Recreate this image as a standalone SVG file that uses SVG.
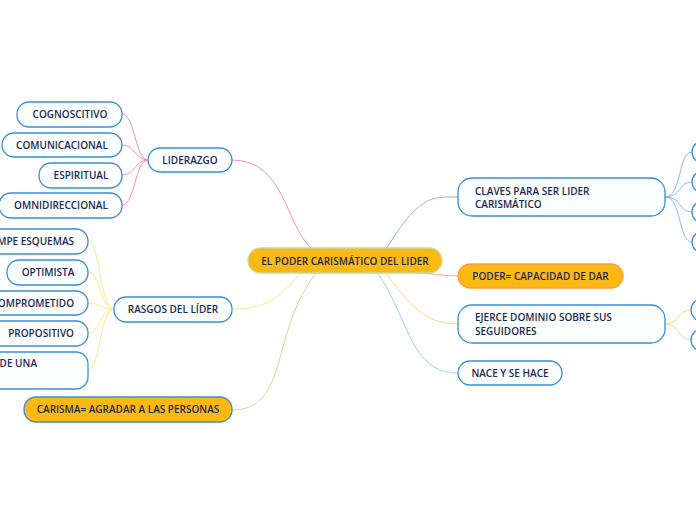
<svg xmlns="http://www.w3.org/2000/svg" width="696" height="520" viewBox="0 0 696 520">
<style>
.n{fill:#fbfefe;stroke:#3b8fd8;stroke-width:1.3}
.o{fill:#fdb913;stroke-width:1.3}
.t{font-family:"Open Sans","Noto Sans",sans-serif;font-size:10px;font-weight:600;fill:#1d2a4f}
.c{text-anchor:middle}
.e{text-anchor:end}
.l{fill:none;stroke-width:1}
</style>
<rect width="696" height="520" fill="#ffffff"/>
<g id="connectors">
<path class="l" stroke="#f48fb6" d="M312,249 C285,225 285,160 232,160"/>
<path class="l" stroke="#f48fb6" d="M148,160 C135,160 135,114 122,114"/>
<path class="l" stroke="#f48fb6" d="M148,160 C135,160 135,145 122,145"/>
<path class="l" stroke="#f48fb6" d="M148,160 C135,160 135,175 122,175"/>
<path class="l" stroke="#f48fb6" d="M148,160 C135,160 135,205 122,205"/>
<path class="l" stroke="#f7ea8a" d="M302,272 C280,295 270,309 232,309"/>
<path class="l" stroke="#f7ea8a" d="M114,309 C100,309 100,241 88,241"/>
<path class="l" stroke="#f7ea8a" d="M114,309 C100,309 100,272 88,272"/>
<path class="l" stroke="#f7ea8a" d="M114,309 C100,309 100,303 88,303"/>
<path class="l" stroke="#f7ea8a" d="M114,309 C100,309 100,333 88,333"/>
<path class="l" stroke="#f7ea8a" d="M114,309 C100,309 100,370 88,370"/>
<path class="l" stroke="#c9dd8e" d="M317,272 C270,330 290,410 232,410"/>
<path class="l" stroke="#8fb5ea" d="M386,249 C420,195 430,197 458,197"/>
<path class="l" stroke="#8fb5ea" d="M665,197 C682,197 678,152 692,152"/>
<path class="l" stroke="#8fb5ea" d="M665,197 C682,197 678,182 692,182"/>
<path class="l" stroke="#8fb5ea" d="M665,197 C682,197 678,212 692,212"/>
<path class="l" stroke="#8fb5ea" d="M665,197 C682,197 678,242 692,242"/>
<path class="l" stroke="#f8a68e" d="M420,273 C435,274 445,276 458,276"/>
<path class="l" stroke="#fdd47c" d="M385,272 C410,305 425,324 458,324"/>
<path class="l" stroke="#fdd47c" d="M665,324 C680,324 677,310 691,310"/>
<path class="l" stroke="#fdd47c" d="M665,324 C680,324 677,340 691,340"/>
<path class="l" stroke="#8fd3f4" d="M377,272 C410,320 410,373 458,373"/>
</g>
<g id="center"><rect class="o" stroke="#c5dc98" x="248" y="248" width="194" height="25" rx="12.5"/><text class="t c" x="345" y="264.5">EL PODER CARISMÁTICO DEL LIDER</text></g>
<g id="liderazgo"><rect class="n" x="148" y="148" width="84" height="24" rx="12"/><text class="t c" x="190" y="163.5">LIDERAZGO</text></g>
<g id="cognoscitivo"><rect class="n" x="17" y="102" width="105" height="25" rx="12"/><text class="t c" x="70" y="118">COGNOSCITIVO</text></g>
<g id="comunicacional"><rect class="n" x="2" y="133" width="120" height="24" rx="12"/><text class="t c" x="62" y="148.5">COMUNICACIONAL</text></g>
<g id="espiritual"><rect class="n" x="39" y="163" width="83" height="25" rx="12"/><text class="t c" x="81" y="179">ESPIRITUAL</text></g>
<g id="omnidireccional"><rect class="n" x="-1" y="193" width="123" height="25" rx="12"/><text class="t c" x="61" y="209">OMNIDIRECCIONAL</text></g>
<g id="rasgos"><rect class="n" x="114" y="297" width="118" height="25" rx="12"/><text class="t c" x="173" y="313">RASGOS DEL LÍDER</text></g>
<g id="esquemas"><rect class="n" x="-30" y="229" width="118" height="25" rx="12"/><text class="t e" x="74" y="245">MPE ESQUEMAS</text></g>
<g id="optimista"><rect class="n" x="7" y="260" width="81" height="25" rx="12"/><text class="t c" x="48" y="276">OPTIMISTA</text></g>
<g id="comprometido"><rect class="n" x="-30" y="291" width="118" height="24" rx="12"/><text class="t e" x="74" y="306.5">OMPROMETIDO</text></g>
<g id="propositivo"><rect class="n" x="-30" y="321" width="118" height="25" rx="12"/><text class="t e" x="74" y="337">PROPOSITIVO</text></g>
<g id="deuna"><rect class="n" x="-30" y="352" width="118" height="37" rx="12"/><text class="t e" x="37" y="366.5">DE UNA</text></g>
<g id="carisma"><rect class="o" stroke="#3b8fd8" x="24" y="397" width="208" height="25" rx="12"/><text class="t c" x="128" y="413">CARISMA= AGRADAR A LAS PERSONAS</text></g>
<g id="claves"><rect class="n" x="458" y="178" width="207" height="38" rx="14"/><text class="t" x="475" y="194.5">CLAVES PARA SER LIDER</text><text class="t" x="475" y="207.5">CARISMÁTICO</text></g>
<g id="c1"><rect class="n" x="692" y="141" width="40" height="22" rx="11"/></g>
<g id="c2"><rect class="n" x="692" y="171" width="40" height="22" rx="11"/></g>
<g id="c3"><rect class="n" x="692" y="201" width="40" height="22" rx="11"/></g>
<g id="c4"><rect class="n" x="692" y="231" width="40" height="22" rx="11"/></g>
<g id="poder"><rect class="o" stroke="#f9a23c" x="458" y="264" width="165" height="24" rx="12"/><text class="t c" x="540.5" y="279.5">PODER= CAPACIDAD DE DAR</text></g>
<g id="ejerce"><rect class="n" x="458" y="305" width="207" height="38" rx="14"/><text class="t" x="475" y="320.5">EJERCE DOMINIO SOBRE SUS</text><text class="t" x="475" y="334.5">SEGUIDORES</text></g>
<g id="e1"><rect class="n" x="691" y="299" width="40" height="22" rx="11"/></g>
<g id="e2"><rect class="n" x="691" y="329" width="40" height="22" rx="11"/></g>
<g id="nace"><rect class="n" x="458" y="361" width="104" height="24" rx="12"/><text class="t c" x="510" y="376.5">NACE Y SE HACE</text></g>
</svg>
